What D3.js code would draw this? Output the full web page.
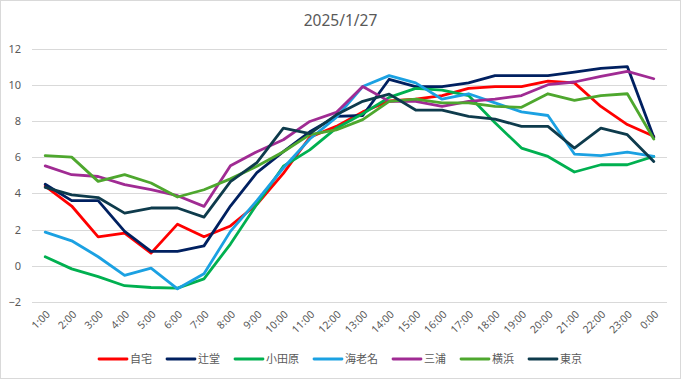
<!DOCTYPE html>
<html>
<head>
<meta charset="utf-8">
<script src="https://cdn.jsdelivr.net/npm/d3@7"></script>
<style>
  html, body { margin: 0; padding: 0; background: #fff; }
  svg { display: block; }
  text { font-family: "Noto Sans", "Noto Sans CJK JP", sans-serif; fill: #595959; }
</style>
</head>
<body>
<svg id="chart" width="681" height="379"></svg>
<script>
const title = "2025/1/27";
const hours = ["1:00","2:00","3:00","4:00","5:00","6:00","7:00","8:00","9:00","10:00","11:00","12:00",
  "13:00","14:00","15:00","16:00","17:00","18:00","19:00","20:00","21:00","22:00","23:00","0:00"];
const yTicks = [-2, 0, 2, 4, 6, 8, 10, 12];
const seriesNames = ["自宅","辻堂","小田原","海老名","三浦","横浜","東京"];
const seriesColors = ["#FF0000","#002060","#00B050","#1BA1E2","#A02B93","#4EA72E","#0E3B4C"];

const jitaku   = [4.4, 3.3, 1.6, 1.8, 0.7, 2.3, 1.6, 2.2, 3.4, 5.1, 7.1, 7.7, 8.5, 9.1, 9.2, 9.4, 9.8, 9.9, 9.9, 10.2, 10.1, 8.8, 7.8, 7.15];
const tsujido  = [4.5, 3.6, 3.6, 1.9, 0.8, 0.8, 1.1, 3.3, 5.15, 6.3, 7.4, 8.25, 8.3, 10.3, 9.9, 9.9, 10.1, 10.5, 10.5, 10.5, 10.7, 10.9, 11.0, 7.1];
const odawara  = [0.5, -0.17, -0.6, -1.1, -1.2, -1.23, -0.72, 1.2, 3.4, 5.5, 6.4, 7.6, 8.4, 9.3, 9.8, 9.7, 9.4, 7.9, 6.5, 6.04, 5.18, 5.58, 5.58, 6.04];
const ebina    = [1.86, 1.38, 0.5, -0.53, -0.13, -1.27, -0.44, 1.9, 3.6, 5.4, 7.0, 8.2, 9.9, 10.5, 10.1, 9.2, 9.5, 9.0, 8.5, 8.3, 6.17, 6.08, 6.28, 6.04];
const miura    = [5.52, 5.03, 4.93, 4.48, 4.2, 3.87, 3.28, 5.52, 6.3, 6.96, 7.97, 8.47, 9.9, 9.08, 9.08, 8.8, 9.08, 9.2, 9.4, 10.0, 10.15, 10.46, 10.74, 10.33];
const yokohama = [6.08, 6.0, 4.66, 5.03, 4.57, 3.8, 4.2, 4.8, 5.5, 6.3, 7.24, 7.5, 8.07, 9.08, 9.2, 9.0, 9.0, 8.8, 8.75, 9.5, 9.13, 9.4, 9.5, 7.0];
const tokyo    = [4.33, 3.92, 3.77, 2.91, 3.19, 3.19, 2.69, 4.65, 5.7, 7.6, 7.3, 8.34, 9.08, 9.48, 8.6, 8.6, 8.25, 8.1, 7.7, 7.7, 6.5, 7.6, 7.24, 5.76];

const seriesValues = [jitaku, tsujido, odawara, ebina, miura, yokohama, tokyo];

const svg = d3.select("#chart");
const W = 681, H = 379;

// border
svg.append("rect").attr("x", 0.5).attr("y", 0.5).attr("width", W - 1).attr("height", H - 1)
  .attr("fill", "#fff").attr("stroke", "#d9d9d9");

const plot = { left: 32, right: 667, top: 48.5, bottom: 302 };

const x = d3.scalePoint().domain(hours).range([plot.left, plot.right]).padding(0.5);
const y = d3.scaleLinear().domain([-2, 12]).range([plot.bottom, plot.top]);

// title
svg.append("text").attr("x", W / 2).attr("y", 26).attr("text-anchor", "middle")
  .style("font-size", "15.5px").text(title);

// gridlines
svg.append("g").selectAll("line").data(yTicks).join("line")
  .attr("x1", plot.left).attr("x2", plot.right)
  .attr("y1", d => Math.round(y(d)) + 0.5).attr("y2", d => Math.round(y(d)) + 0.5)
  .attr("stroke", "#d9d9d9").attr("stroke-width", 1);

// y axis labels
const yAxis = d3.axisLeft(y).tickValues(yTicks).tickSize(0).tickPadding(0);
const gy = svg.append("g").attr("transform", `translate(${21},0)`).call(yAxis);
gy.select(".domain").remove();
gy.selectAll("text").style("font-size", "11px").attr("fill", "#595959")
  .style("font-family", "'Noto Sans', sans-serif");

// x axis labels (rotated)
const xAxis = d3.axisBottom(x).tickSize(0).tickPadding(0);
const gx = svg.append("g").attr("transform", `translate(0,${plot.bottom})`).call(xAxis);
gx.select(".domain").remove();
gx.selectAll("text")
  .attr("text-anchor", "end")
  .attr("dy", null)
  .attr("y", 0)
  .attr("transform", d => `translate(5,13) rotate(-45)`)
  .style("font-size", "10.5px").attr("fill", "#595959")
  .style("font-family", "'Noto Sans', sans-serif");

// lines
const line = d3.line().x((d, i) => x(hours[i])).y(d => y(d));
const gl = svg.append("g");
seriesValues.forEach((vals, k) => {
  gl.append("path").datum(vals)
    .attr("d", line)
    .attr("fill", "none")
    .attr("stroke", seriesColors[k])
    .attr("stroke-width", 2.8)
    .attr("stroke-linejoin", "round")
    .attr("stroke-linecap", "round");
});

// legend
const lg = svg.append("g");
const items = seriesNames.map((name, k) => {
  const g = lg.append("g");
  g.append("line").attr("x1", 0).attr("x2", 28).attr("y1", 0).attr("y2", 0)
    .attr("stroke", seriesColors[k]).attr("stroke-width", 2.8).attr("stroke-linecap", "round");
  const t = g.append("text").attr("x", 31).attr("y", 4)
    .style("font-size", "11px").style("font-family", "'Noto Sans CJK JP', sans-serif").text(name);
  const w = 31 + t.node().getComputedTextLength();
  return { g, w };
});
const gap = 15;
const total = d3.sum(items, d => d.w) + gap * (items.length - 1);
let cx = W / 2 - total / 2;
items.forEach(it => {
  it.g.attr("transform", `translate(${cx},359)`);
  cx += it.w + gap;
});
</script>
</body>
</html>
